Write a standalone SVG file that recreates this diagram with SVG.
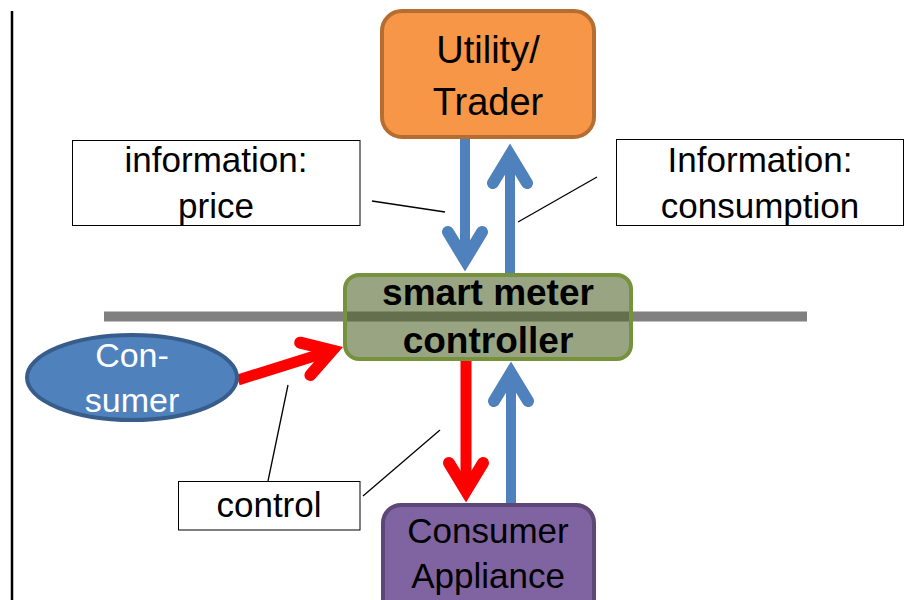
<svg xmlns="http://www.w3.org/2000/svg" width="907" height="600" viewBox="0 0 907 600">
  <style>
    text { font-family: "Liberation Sans", Arial, sans-serif; text-anchor: middle; fill: #000; }
    .label { font-size: 35px; }
    .node { font-size: 38px; }
    .meter { font-size: 37px; font-weight: bold; }
    .white { fill: #fff; font-size: 34px; }
    .box { fill: #fff; stroke: #000; stroke-width: 1; }
    .leader { stroke: #000; stroke-width: 1.3; fill: none; }
    .shaft-blue { stroke: #4f81bd; stroke-width: 10; fill: none; }
    .shaft-red { stroke: #ff0000; stroke-width: 11; fill: none; }
  </style>
  <defs>
    <!-- open chevron heads; the vertex sits at the line end and the mitred tip reaches ~11px further -->
    <marker id="head-blue" markerUnits="userSpaceOnUse" orient="auto" refX="0" refY="0" markerWidth="60" markerHeight="60" overflow="visible">
      <path d="M-28,-17 L0,0 L-28,17" fill="none" stroke="#4f81bd" stroke-width="12" stroke-linecap="round" stroke-linejoin="miter"/>
    </marker>
    <marker id="head-red" markerUnits="userSpaceOnUse" orient="auto" refX="0" refY="0" markerWidth="60" markerHeight="60" overflow="visible">
      <path d="M-28,-17 L0,0 L-28,17" fill="none" stroke="#ff0000" stroke-width="12" stroke-linecap="round" stroke-linejoin="miter"/>
    </marker>
  </defs>

  <!-- left page rule -->
  <line x1="12" y1="11" x2="12" y2="600" stroke="#000" stroke-width="2.5"/>

  <!-- grid boundary line behind the meter -->
  <line x1="104" y1="316.5" x2="807" y2="316.5" stroke="#808080" stroke-width="10"/>

  <g id="connectors">
    <!-- price information: utility -> meter -->
    <line class="shaft-blue" x1="465" y1="139" x2="465" y2="260" marker-end="url(#head-blue)"/>
    <!-- consumption information: meter -> utility -->
    <line class="shaft-blue" x1="510" y1="273" x2="510" y2="155" marker-end="url(#head-blue)"/>
    <!-- control: consumer -> meter -->
    <line class="shaft-red" x1="238" y1="380" x2="332" y2="350.5" marker-end="url(#head-red)"/>
    <!-- control: meter -> appliance -->
    <line class="shaft-red" x1="466" y1="361" x2="466" y2="491" marker-end="url(#head-red)"/>
    <!-- consumption: appliance -> meter -->
    <line class="shaft-blue" x1="511" y1="503" x2="511" y2="373" marker-end="url(#head-blue)"/>
    <!-- label leaders -->
    <line class="leader" x1="372" y1="201" x2="445" y2="212"/>
    <line class="leader" x1="518" y1="222" x2="597" y2="177"/>
    <line class="leader" x1="268" y1="481" x2="288" y2="385"/>
    <line class="leader" x1="363" y1="496" x2="440" y2="430"/>
  </g>

  <g id="utility">
    <rect x="382" y="11" width="212" height="126" rx="20" fill="#f79646" stroke="#b66d31" stroke-width="4"/>
    <text class="node" x="488" y="63">Utility/</text>
    <text class="node" x="488" y="115">Trader</text>
  </g>

  <g id="smart-meter">
    <rect x="345" y="275" width="286" height="84" rx="14" fill="#4f6228" fill-opacity="0.58" stroke="#76923c" stroke-width="4"/>
    <text class="meter" x="488" y="305">smart meter</text>
    <text class="meter" x="488" y="353">controller</text>
  </g>

  <g id="consumer">
    <ellipse cx="132" cy="377.5" rx="105" ry="42.5" fill="#4f81bd" stroke="#385d8a" stroke-width="4"/>
    <text class="white" x="132" y="367">Con-</text>
    <text class="white" x="132" y="412">sumer</text>
  </g>

  <g id="appliance">
    <rect x="383" y="505" width="211" height="120" rx="18" fill="#8064a2" stroke="#5c4776" stroke-width="4"/>
    <text class="label" x="488" y="543" font-size="33">Consumer</text>
    <text class="label" x="488" y="588" font-size="33">Appliance</text>
  </g>

  <g id="label-price">
    <rect class="box" x="72.5" y="140.5" width="287.5" height="85"/>
    <text class="label" x="216" y="172">information:</text>
    <text class="label" x="216" y="218">price</text>
  </g>

  <g id="label-consumption">
    <rect class="box" x="616.5" y="139.5" width="287" height="86"/>
    <text class="label" x="760" y="172">Information:</text>
    <text class="label" x="760" y="218">consumption</text>
  </g>

  <g id="label-control">
    <rect class="box" x="178.5" y="481.5" width="181.5" height="48.5"/>
    <text class="label" x="269" y="517">control</text>
  </g>
</svg>
